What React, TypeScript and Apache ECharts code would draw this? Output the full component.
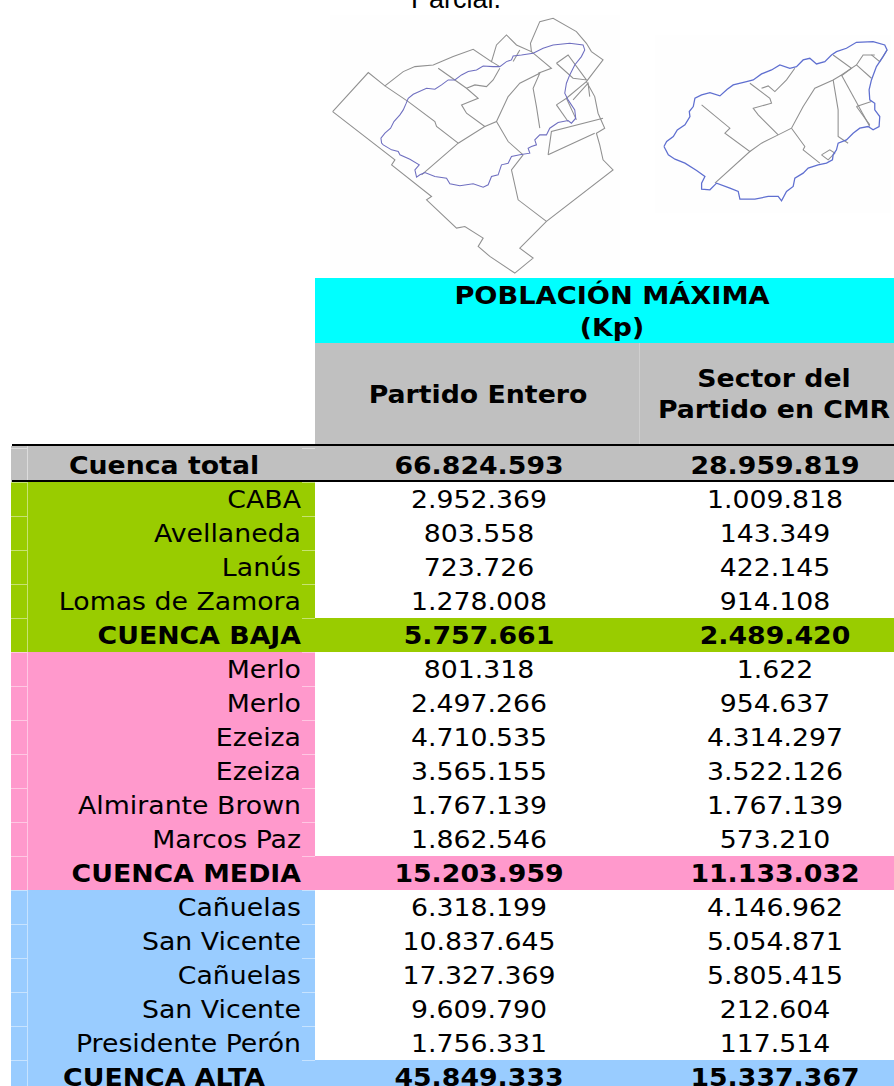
import React, { useEffect, useRef } from "react";
import * as echarts from "echarts";

const rowLabels = ["Cuenca total", "CABA", "Avellaneda", "Lanús", "Lomas de Zamora", "CUENCA BAJA", "Merlo", "Merlo", "Ezeiza", "Ezeiza", "Almirante Brown", "Marcos Paz", "CUENCA MEDIA", "Cañuelas", "San Vicente", "Cañuelas", "San Vicente", "Presidente Perón", "CUENCA ALTA"];
const partidoEntero = [66824593, 2952369, 803558, 723726, 1278008, 5757661, 801318, 2497266, 4710535, 3565155, 1767139, 1862546, 15203959, 6318199, 10837645, 17327369, 9609790, 1756331, 45849333];
const sectorCMR = [28959819, 1009818, 143349, 422145, 914108, 2489420, 1622, 954637, 4314297, 3522126, 1767139, 573210, 11133032, 4146962, 5054871, 5805415, 212604, 117514, 15337367];
const rowFills = ["#c0c0c0", "#99cc00", "#99cc00", "#99cc00", "#99cc00", "#99cc00", "#ff99cc", "#ff99cc", "#ff99cc", "#ff99cc", "#ff99cc", "#ff99cc", "#ff99cc", "#99ccff", "#99ccff", "#99ccff", "#99ccff", "#99ccff", "#99ccff"];
const summaryRows = [0, 5, 12, 18];
const centredLabelRows = [0, 18];
const headerTitle = ["POBLACIÓN MÁXIMA", "(Kp)"];
const columnTitles = ["Partido Entero", "Sector del", "Partido en CMR"];
const pageCaption = "Parcial.";

const FONT = "'DejaVu Sans', Verdana, sans-serif";
const FS = 24;
const SX = 1.115;
const GRID_LEFT = 11;
const X_LABEL_END = 304;
const X_TEXT_RIGHT = 290;
const X_TOTAL_CENTER = 153;
const X_COL1 = 468;
const X_COL2 = 764;
const TEXT_DY = 1;
const fmt = (n: number) => String(n).replace(/\B(?=(\d{3})+(?!\d))/g, ".");

// map outlines (units: 1/3 px)
const LEFT_GRAY = [
  [38,335,145,218,195,258,250,215,285,200,340,195,400,170,460,148,515,185,530,135,560,105,590,135,635,155,632,130,660,65,700,55,770,95,800,130,815,155,850,180,800,245,825,290,835,340,855,385,830,400,840,435,850,480,880,510,680,665,600,745,640,775,585,820,510,770,475,740,490,715,435,680,410,685,320,600,335,590,215,495,225,480,38,335],
  [195,258,265,305,345,365,350,380,415,430],
  [355,205,440,265,475,295,425,315,440,340,495,380,415,430,305,525],
  [495,380,530,365,565,290,600,250,660,220,640,265,650,320,660,385],
  [530,365,565,425,610,465],
  [635,155,695,205,655,220],
  [710,190,745,165,800,240,760,235,710,190],
  [710,315,740,295,770,360],
  [710,315,745,365],
  [685,465,695,395,850,355],
  [685,465,825,400],
  [610,465,575,510,595,600,680,665],
  [740,295,800,245],
  [440,265,465,255,500,260,520,240,540,205],
  [515,185,540,200],
  [580,185,600,150],
  [760,300,805,250,810,290],
];
const LEFT_BLUE = [[185,430,183,415,195,400,212,385,222,365,240,345,250,330,258,312,265,295,280,283,305,272,320,265,345,268,365,255,385,240,405,240,425,225,445,215,470,210,490,198,520,200,540,200,560,185,575,180,580,168,605,165,640,160,670,145,700,135,750,130,790,135,795,150,785,170,765,195,750,225,740,250,735,280,745,300,765,330,768,355,755,370,745,362,715,368,690,385,680,405,660,405,645,420,650,435,635,440,625,445,630,460,600,465,575,470,565,490,545,495,535,525,515,530,505,555,490,562,460,552,420,558,390,552,380,535,345,530,315,518,300,525,290,532,285,510,298,495,270,478,240,465,235,455,215,450,190,435,185,430]];
const RIGHT_BLUE = [[72,440,80,425,100,410,112,390,135,375,150,350,148,335,160,320,165,295,185,285,210,278,240,288,262,268,280,255,320,245,340,240,365,222,395,210,420,195,450,205,470,200,490,180,510,175,530,192,555,185,575,165,590,155,620,145,650,127,700,125,735,135,742,150,730,170,710,200,695,240,688,270,690,300,705,310,705,330,720,350,718,380,700,390,685,380,660,385,640,400,620,420,595,430,590,450,580,465,578,480,560,490,535,495,505,505,490,520,465,535,460,560,440,575,425,603,415,590,385,590,345,598,300,598,295,575,270,565,230,550,210,570,185,568,185,550,195,530,170,512,135,490,105,478,85,465,72,440]];
const RIGHT_GRAY = [
  [185,315,270,385,255,400,330,455,225,550],
  [330,455,365,430,415,405,455,385,490,320,525,265,580,240,605,225,650,195,670,165,705,165],
  [330,250,390,295,395,310,340,325,355,345,415,405],
  [365,265,385,258,405,275,440,240,465,205],
  [455,385,495,440,490,450,540,490],
  [580,240,595,330,595,410,625,430],
  [605,225,690,380],
  [650,320,695,305],
  [650,320,690,375],
  [580,165,635,205,605,228],
  [650,195,695,235],
  [695,165,720,185,742,150],
  [545,465,570,450,585,460,565,480,545,465],
];

const toPts = (a: number[]) => {
  const p: number[][] = [];
  for (let i = 0; i < a.length; i += 2) p.push([a[i], a[i + 1]]);
  return p;
};
const mapLines = (lines: number[][], stroke: string, width: number) =>
  lines.map((l) => ({
    type: "polyline",
    shape: { points: toPts(l) },
    style: { stroke, lineWidth: width, fill: "none" },
  }));

const txt = (text: string, x: number, y: number, bold: boolean, align = "center", family = FONT, size = FS, sx = SX) => ({
  type: "text",
  x,
  y,
  scaleX: sx,
  z: 5,
  style: { text, x: 0, y: 0, align, verticalAlign: "middle", fill: "#000", font: `${bold ? "bold " : ""}${size}px ${family}` },
});

const rect = (x: number, y: number, width: number, height: number, fill: string, z = 1) => ({
  type: "rect",
  z,
  shape: { x, y, width, height },
  style: { fill },
});

export default function App() {
  const ref = useRef<HTMLDivElement>(null);
  useEffect(() => {
    const chart = echarts.init(ref.current!, null, { renderer: "svg" });
    chart.setOption({
      animation: false,
      backgroundColor: "#fff",
      grid: { left: GRID_LEFT, top: 448, width: 883, height: 34 * rowLabels.length },
      xAxis: { type: "value", min: 0, max: 883, show: false },
      yAxis: { type: "category", inverse: true, show: false, data: rowLabels.map((_, i) => String(i)) },
      graphic: [
        rect(330, 15, 290, 258, "#fefefe", 0),
        rect(655, 35, 236, 178, "#fefefe", 0),
        txt(pageCaption, 456, -1, false, "center", "'Liberation Sans', Arial, sans-serif", 27, 1),
        { type: "group", x: 320, y: 0, scaleX: 1 / 3, scaleY: 1 / 3, z: 2, children: [...mapLines(LEFT_GRAY, "#909090", 3.2), ...mapLines(LEFT_BLUE, "#6f6fc0", 3.2)] },
        { type: "group", x: 640, y: 0, scaleX: 1 / 3, scaleY: 1 / 3, z: 2, children: [...mapLines(RIGHT_GRAY, "#909090", 3.2), ...mapLines(RIGHT_BLUE, "#5f6fd0", 3.8)] },
        rect(315, 278, 579, 65, "#00ffff"),
        rect(315, 343, 579, 102, "#c0c0c0"),
        rect(639, 343, 1, 102, "#cfcfcf", 2),
        txt(headerTitle[0], 612, 296, true, "center", FONT, FS, 1.135),
        txt(headerTitle[1], 612, 328, true),
        txt(columnTitles[0], 478, 395, true),
        txt(columnTitles[1], 774, 379, true),
        txt(columnTitles[2], 774, 410, true),
        rect(12, 444, 882, 2, "#000", 10),
        rect(12, 480, 882, 2, "#000", 10),
      ],
      series: [
        {
          type: "custom",
          clip: false,
          coordinateSystem: "cartesian2d",
          data: rowLabels.map((_, i) => [0, i]),
          encode: { x: 0, y: 1 },
          renderItem: (params: any, api: any) => {
            const i = params.dataIndex;
            const [x0, yc] = api.coord([0, i]);
            const h = api.size([0, 1])[1];
            const top = yc - h / 2;
            const summary = summaryRows.includes(i);
            const isTotal = i === 0;
            const centred = centredLabelRows.includes(i);
            const fill = rowFills[i];
            const xLabelEnd = api.coord([X_LABEL_END, i])[0];
            const rowTop = isTotal ? top - 2 : top;
            const rowH = isTotal ? h + 2 : h;
            const faint = { fill: "rgba(255,255,255,0.45)" };
            const font = `${summary ? "bold " : ""}${FS}px ${FONT}`;
            const labelX = centred ? X_TOTAL_CENTER : X_TEXT_RIGHT;
            const ty = yc + TEXT_DY;
            const children: any[] = [
              { type: "rect", shape: { x: x0, y: rowTop, width: summary ? 883 : xLabelEnd - x0, height: rowH }, style: { fill } },
              { type: "rect", shape: { x: x0 + 16, y: rowTop, width: 1, height: rowH }, style: faint },
              { type: "rect", shape: { x: x0, y: top, width: 16, height: 1 }, style: faint },
              { type: "rect", shape: { x: api.coord([X_TEXT_RIGHT + 1, i])[0], y: top, width: 13, height: 1 }, style: faint },
              { type: "text", x: api.coord([labelX, i])[0], y: ty, scaleX: SX, style: { text: rowLabels[i], x: 0, y: 0, align: centred ? "center" : "right", verticalAlign: "middle", fill: "#000", font } },
              { type: "text", x: api.coord([X_COL1, i])[0], y: ty, scaleX: SX, style: { text: fmt(partidoEntero[i]), x: 0, y: 0, align: "center", verticalAlign: "middle", fill: "#000", font } },
              { type: "text", x: api.coord([X_COL2, i])[0], y: ty, scaleX: SX, style: { text: fmt(sectorCMR[i]), x: 0, y: 0, align: "center", verticalAlign: "middle", fill: "#000", font } },
            ];
            return { type: "group", children };
          },
        },
      ],
    });
    return () => chart.dispose();
  }, []);
  return (
    <div style={{ position: "absolute", left: 0, top: 0, width: 894, height: 1086, overflow: "hidden" }}>
      <div ref={ref} style={{ width: 894, height: 1120 }} />
    </div>
  );
}
